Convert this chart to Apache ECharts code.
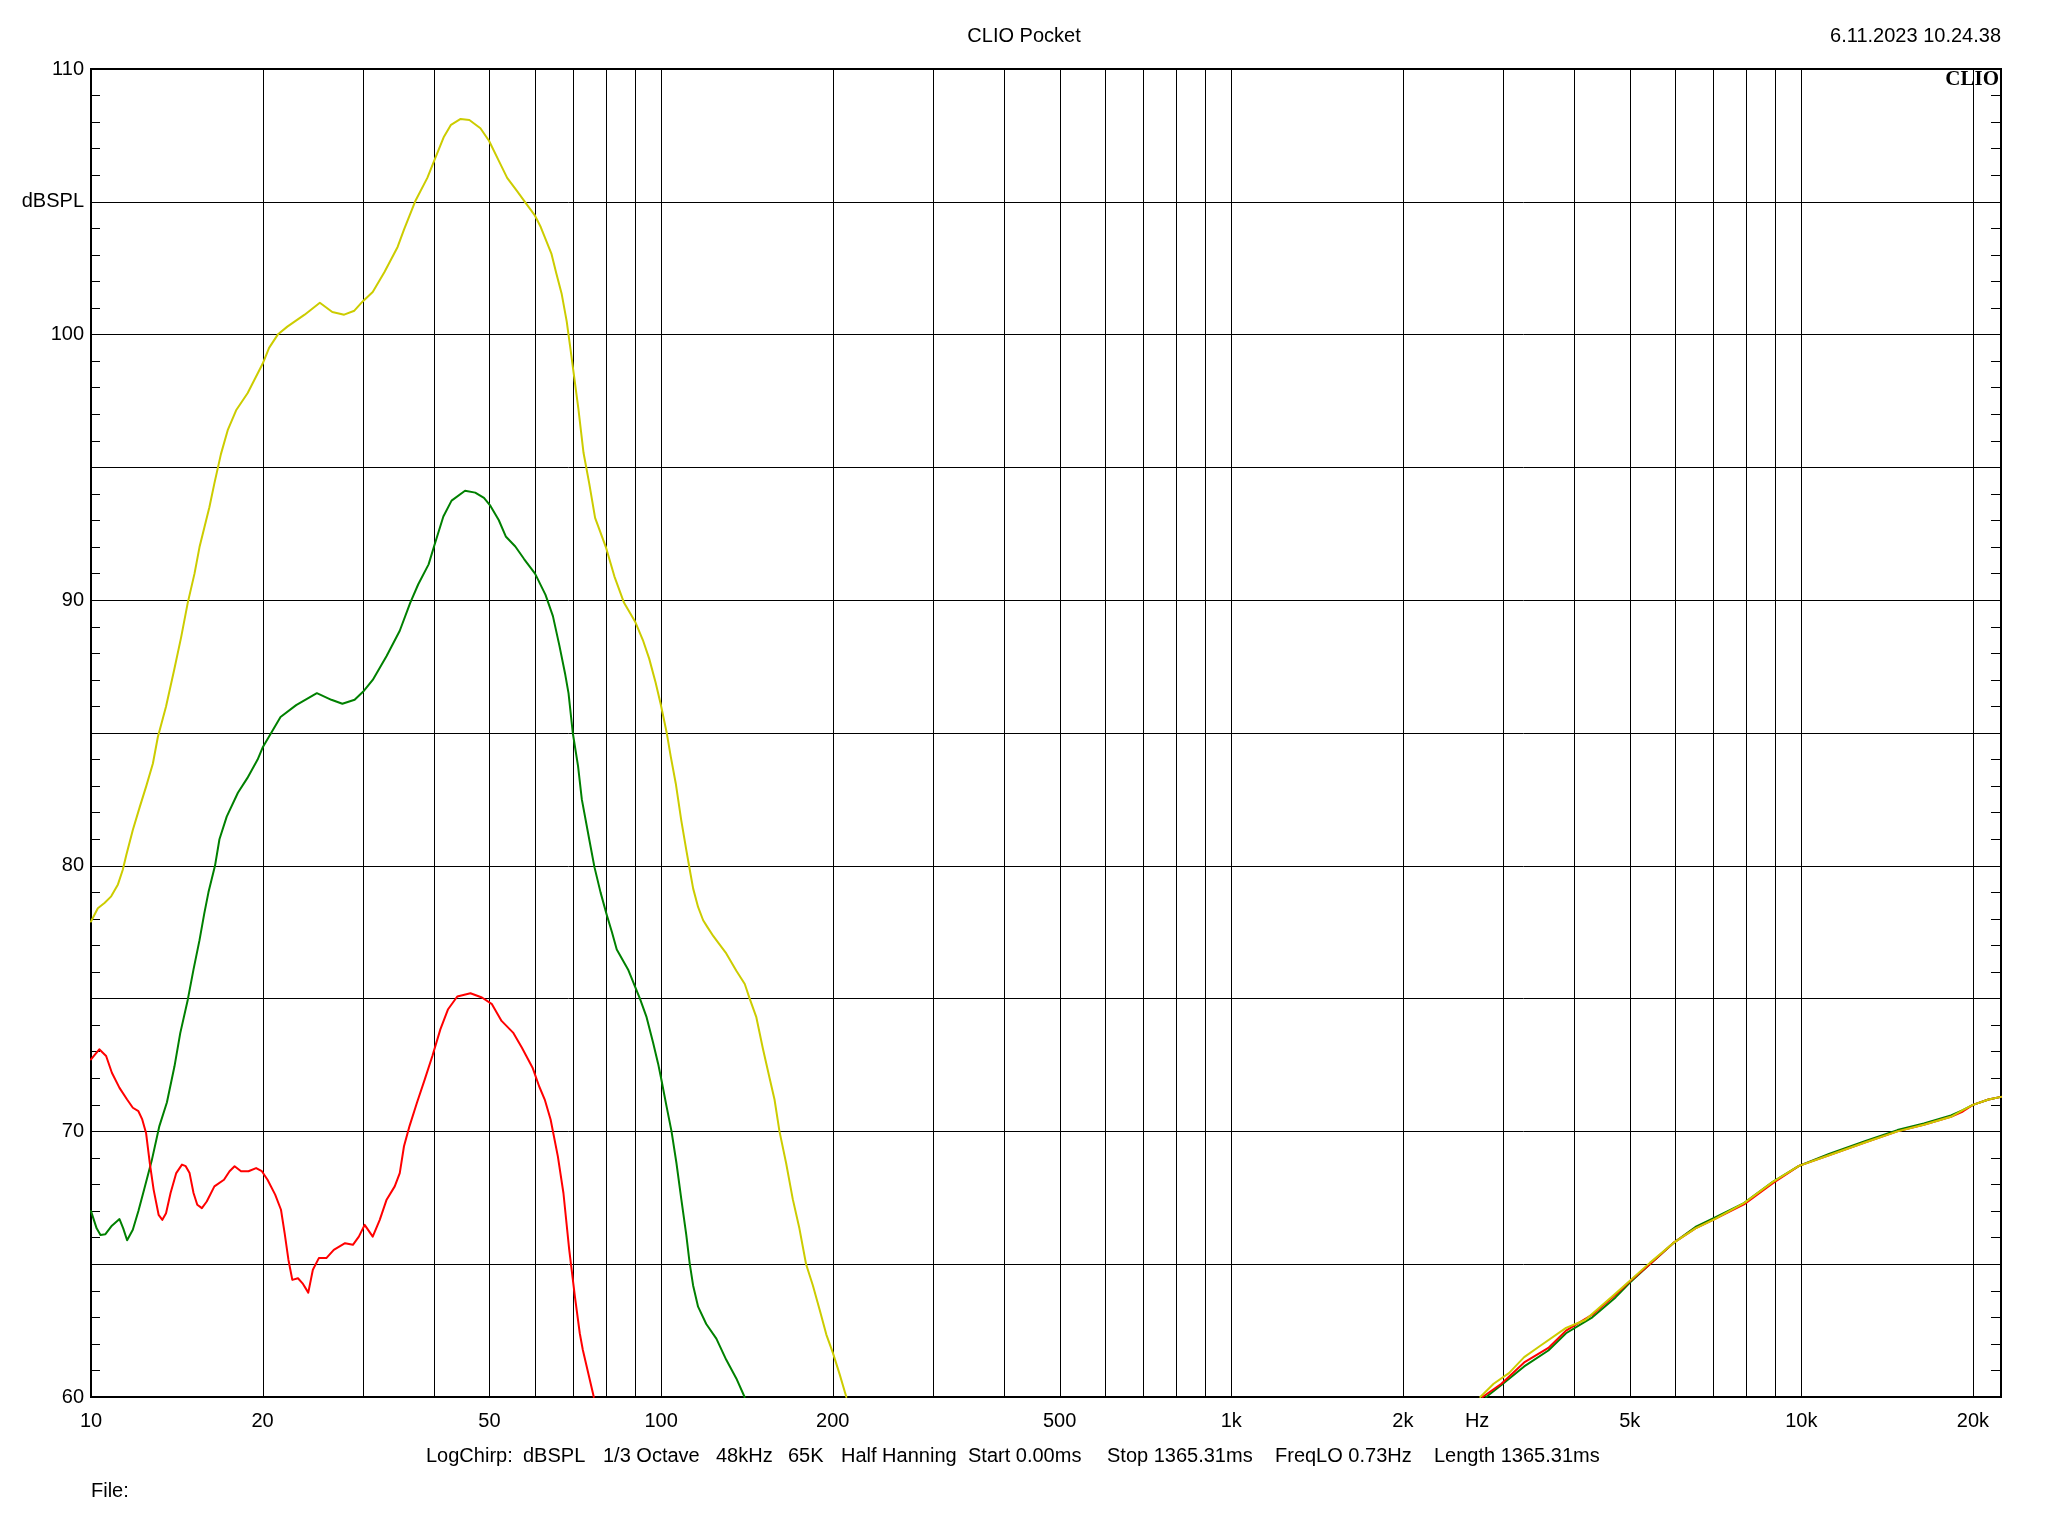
<!DOCTYPE html>
<html><head><meta charset="utf-8">
<script src="https://cdn.jsdelivr.net/npm/echarts@6/dist/echarts.min.js"></script>
<style>html,body{margin:0;padding:0;background:#fff}#c{width:2048px;height:1536px}</style>
</head><body><div id="c"></div>
<script>
// ---- Data (frequency in Hz, level in dBSPL) ----
const yellowLowF = [10.0,10.28,10.56,10.85,11.15,11.37,11.53,11.84,12.17,12.5,12.84,13.1,13.54,14.0,14.39,14.78,15.19,15.5,15.81,16.13,16.46,16.9,17.37,17.97,18.83,20.0,20.53,21.26,22.1,23.7,25.2,26.5,27.8,28.97,29.96,31.2,32.7,34.5,35.4,37.1,38.9,40.0,41.6,42.8,44.5,46.1,48.2,49.9,51.9,53.7,55.9,57.9,60.0,61.5,64.2,65.5,66.9,68.3,69.2,70.2,71.6,73.1,74.8,76.6,80.0,82.8,86.1,90.0,92.9,95.3,97.8,99.8,102.2,104.0,106.1,108.5,110.7,112.6,113.8,116.1,118.5,120.5,123.5,126.5,130.1,135.5,140.2,143.0,146.9,150.9,155.0,158.1,161.3,165.7,170.2,174.8,179.6,184.6,189.6,194.9,200.2,205.7,211.3];
const yellowLowDb = [77.9,78.4,78.6,78.85,79.3,79.85,80.4,81.35,82.2,83.0,83.85,84.85,86.0,87.4,88.6,89.9,91.0,92.0,92.75,93.5,94.4,95.5,96.4,97.15,97.8,98.9,99.5,100.0,100.3,100.75,101.2,100.85,100.75,100.9,101.25,101.6,102.35,103.3,103.95,105.05,105.9,106.55,107.45,107.9,108.12,108.08,107.77,107.3,106.55,105.9,105.4,104.95,104.5,104.05,103.05,102.3,101.55,100.5,99.6,98.6,97.2,95.55,94.4,93.1,92.0,90.9,89.9,89.2,88.5,87.8,86.9,86.1,85.05,84.1,83.1,81.7,80.6,79.7,79.15,78.45,77.95,77.7,77.35,77.05,76.7,76.05,75.55,75.0,74.3,73.1,72.0,71.2,70.0,68.8,67.45,66.35,65.0,64.2,63.3,62.35,61.65,60.85,60.0];

const greenLowF = [10.0,10.23,10.39,10.6,10.88,11.22,11.39,11.57,11.84,12.11,12.39,12.78,13.18,13.59,14.01,14.34,14.78,15.13,15.5,15.8,16.07,16.5,16.8,17.3,18.1,18.8,19.6,20.0,20.7,21.5,22.9,24.9,26.4,27.6,29.0,30.0,31.2,33.0,34.8,36.3,37.5,39.1,40.0,41.5,42.9,45.3,47.2,48.9,50.2,51.9,53.4,55.5,57.5,60.1,62.7,64.6,66.3,67.9,68.8,70.0,71.5,72.6,74.8,76.4,78.3,80.3,82.0,83.6,87.5,91.8,94.3,96.8,98.8,100.0,102.2,104.3,106.4,108.5,110.7,112.2,113.8,116.1,120.0,125.0,130.1,135.5,140.1];
const greenLowDb = [67.0,66.35,66.1,66.13,66.45,66.7,66.35,65.9,66.3,67.0,67.8,68.9,70.2,71.1,72.45,73.7,74.95,76.1,77.2,78.2,79.0,80.0,81.0,81.85,82.75,83.3,84.0,84.45,85.0,85.6,86.05,86.5,86.25,86.1,86.25,86.55,87.0,87.9,88.85,89.9,90.6,91.35,92.05,93.15,93.75,94.12,94.05,93.85,93.55,93.02,92.4,92.02,91.55,91.0,90.2,89.4,88.3,87.2,86.5,85.0,83.75,82.5,81.0,79.95,79.0,78.15,77.5,76.85,76.1,75.0,74.3,73.35,72.55,72.0,70.95,70.0,68.8,67.45,66.1,65.05,64.2,63.4,62.75,62.2,61.4,60.7,60.0];

const redLowF = [10.0,10.34,10.63,10.88,11.22,11.57,11.84,12.11,12.3,12.49,12.68,12.88,13.14,13.34,13.54,13.79,14.11,14.44,14.66,14.89,15.13,15.36,15.65,15.96,16.46,17.11,17.5,17.86,18.33,18.89,19.48,19.94,20.4,21.04,21.54,21.86,22.2,22.55,23.07,23.5,24.05,24.5,25.1,25.87,26.66,27.9,28.8,29.5,30.2,31.2,32.1,33.0,34.1,34.8,35.4,36.2,37.3,38.5,39.7,41.0,42.3,43.9,46.3,48.5,50.5,52.5,55.0,57.0,59.5,61.1,62.5,64.0,65.9,67.4,69.0,70.6,72.0,72.9,76.2];
const redLowDb = [72.71,73.09,72.84,72.21,71.64,71.2,70.89,70.76,70.45,69.94,68.81,67.8,66.86,66.67,66.92,67.68,68.43,68.75,68.69,68.43,67.68,67.24,67.11,67.36,67.93,68.18,68.5,68.69,68.5,68.5,68.62,68.5,68.18,67.62,67.05,66.17,65.16,64.41,64.47,64.28,63.93,64.79,65.23,65.23,65.54,65.79,65.73,66.04,66.48,66.04,66.67,67.43,67.93,68.43,69.44,70.2,71.08,71.96,72.84,73.84,74.6,75.08,75.2,75.04,74.79,74.16,73.72,73.15,72.4,71.7,71.2,70.45,69.06,67.68,65.54,63.78,62.4,61.77,60.0];

const yellowHiF = [2735,2886,3070,3265,3470,3866,4177,4722,5423,5965,6520,7046,7932,8913,9906,11180,13000,14740,16400,18300,19200,20000,21300,22400];
const yellowHiDb = [60.0,60.5,60.9,61.5,61.9,62.6,62.9,63.9,65.05,65.8,66.35,66.7,67.3,68.1,68.7,69.1,69.6,70.0,70.25,70.55,70.8,71.0,71.2,71.3];
const greenHiF = [2800,2978,3265,3600,3866,4300,4722,5000,5423,5965,6520,7046,7932,8913,9906,11180,13000,14740,16400,18300,19200,20000,21300,22400];
const greenHiDb = [60.0,60.45,61.15,61.75,62.4,63.0,63.75,64.3,65.0,65.8,66.4,66.75,67.3,68.1,68.7,69.15,69.65,70.05,70.3,70.6,70.8,71.0,71.2,71.3];
const redHiF = [2760,2978,3265,3600,3866,4300,4722,5000,5423,5965,6520,7046,7932,8913,9906,11180,13000,14740,16400,18300,19200,20000,21300,22400];
const redHiDb = [60.0,60.5,61.3,61.85,62.5,63.1,63.85,64.35,65.0,65.8,66.35,66.7,67.25,68.05,68.7,69.1,69.6,70.0,70.25,70.55,70.75,71.0,71.2,71.3];

// Axis ticks / labels
const gridFreqs = [20,30,40,50,60,70,80,90,100,200,300,400,500,600,700,800,900,1000,2000,3000,4000,5000,6000,7000,8000,9000,10000,20000];
const xLabelFreqs = [10,20,50,100,200,500,1000,2000,2700,5000,10000,20000];
const xLabelTexts = ['10','20','50','100','200','500','1k','2k','Hz','5k','10k','20k'];
const infoItems = ['LogChirp:','dBSPL','1/3 Octave','48kHz','65K','Half Hanning','Start 0.00ms','Stop 1365.31ms','FreqLO 0.73Hz','Length 1365.31ms'];
const infoX = [426,523,603,716,788,841,968,1107,1275,1434];

const FONT = '"Liberation Sans", Arial, sans-serif';
const FS = 20;
const zip = (f, d) => f.slice(0, Math.min(f.length, d.length)).map((x, i) => [x, d[i]]);

const chart = echarts.init(document.getElementById('c'), null, {renderer: 'canvas'});

function lineSeries(data, color, z) {
  return {type: 'line', data: data, showSymbol: false, symbol: 'none', smooth: false,
    clip: true, z: z, silent: true,
    lineStyle: {color: color, width: 2, join: 'round', cap: 'round'}, itemStyle: {color: color}};
}

const YEL = '#CCCC00', GRN = '#008000', RED = '#FF0000';

function txt(text, x, y, align, font) {
  return {type: 'text', x: x, y: y, silent: true, z: 10,
    style: {text: text, fill: '#000', font: font || (FS + 'px ' + FONT),
      align: align, verticalAlign: 'middle', textAlign: align, textVerticalAlign: 'middle'}};
}

chart.setOption({
  animation: false,
  backgroundColor: '#fff',
  grid: {left: 91, top: 69, width: 1910, height: 1328, show: true, borderColor: '#000', borderWidth: 2, backgroundColor: 'transparent'},
  xAxis: {type: 'log', logBase: 10, min: 10, max: 22400,
    axisLine: {show: false}, axisTick: {show: false}, axisLabel: {show: false}, splitLine: {show: false}},
  yAxis: [
    {type: 'value', min: 60, max: 110, interval: 5, position: 'left',
      axisLine: {show: false},
      axisTick: {show: true, inside: true, length: 9, lineStyle: {color: '#000', width: 1}},
      minorTick: {show: true, splitNumber: 5, length: 9, lineStyle: {color: '#000', width: 1}},
      splitLine: {show: true, lineStyle: {color: '#000', width: 1}},
      axisLabel: {color: '#000', fontSize: FS, fontFamily: FONT, margin: 7,
        formatter: v => v === 105 ? 'dBSPL' : (v % 10 === 0 ? String(v) : '')}},
    {type: 'value', min: 60, max: 110, interval: 5, position: 'right',
      axisLine: {show: false},
      axisTick: {show: true, inside: true, length: 10, lineStyle: {color: '#000', width: 1}},
      minorTick: {show: true, splitNumber: 5, length: 10, lineStyle: {color: '#000', width: 1}},
      splitLine: {show: false}, axisLabel: {show: false}}
  ],
  series: [
    {type: 'custom', silent: true, clip: false, z: 1,
      data: gridFreqs.map(f => [f, 60]),
      renderItem: (params, api) => {
        const p0 = api.coord([api.value(0), 110]);
        const p1 = api.coord([api.value(0), 60]);
        const x = Math.round(p0[0]) + 0.5;
        return {type: 'line', shape: {x1: x, y1: p0[1], x2: x, y2: p1[1]},
          style: {stroke: '#000', lineWidth: 1}};
      }},
    {type: 'custom', silent: true, clip: false, z: 1,
      data: xLabelFreqs.map((f, i) => [f, 60, i]),
      renderItem: (params, api) => {
        const p = api.coord([api.value(0), 60]);
        return {type: 'text', x: p[0], y: p[1] + 24,
          style: {text: xLabelTexts[api.value(2)], fill: '#000', font: FS + 'px ' + FONT,
            align: 'center', verticalAlign: 'middle', textAlign: 'center', textVerticalAlign: 'middle'}};
      }},
    lineSeries(zip(greenLowF, greenLowDb), GRN, 3),
    lineSeries(zip(redLowF, redLowDb), RED, 4),
    lineSeries(zip(yellowLowF, yellowLowDb), YEL, 5),
    lineSeries(zip(greenHiF, greenHiDb), GRN, 3),
    lineSeries(zip(redHiF, redHiDb), RED, 4),
    lineSeries(zip(yellowHiF, yellowHiDb), YEL, 5)
  ],
  graphic: [
    txt('CLIO Pocket', 1024, 36, 'center'),
    txt('6.11.2023 10.24.38', 2001, 36, 'right'),
    txt('CLIO', 1999, 80, 'right', 'bold 21px "Liberation Serif", "Times New Roman", serif'),
    txt('File:', 91, 1491, 'left')
  ].concat(infoItems.map((t, i) => txt(t, infoX[i], 1456, 'left')))
});
</script>
</body></html>
